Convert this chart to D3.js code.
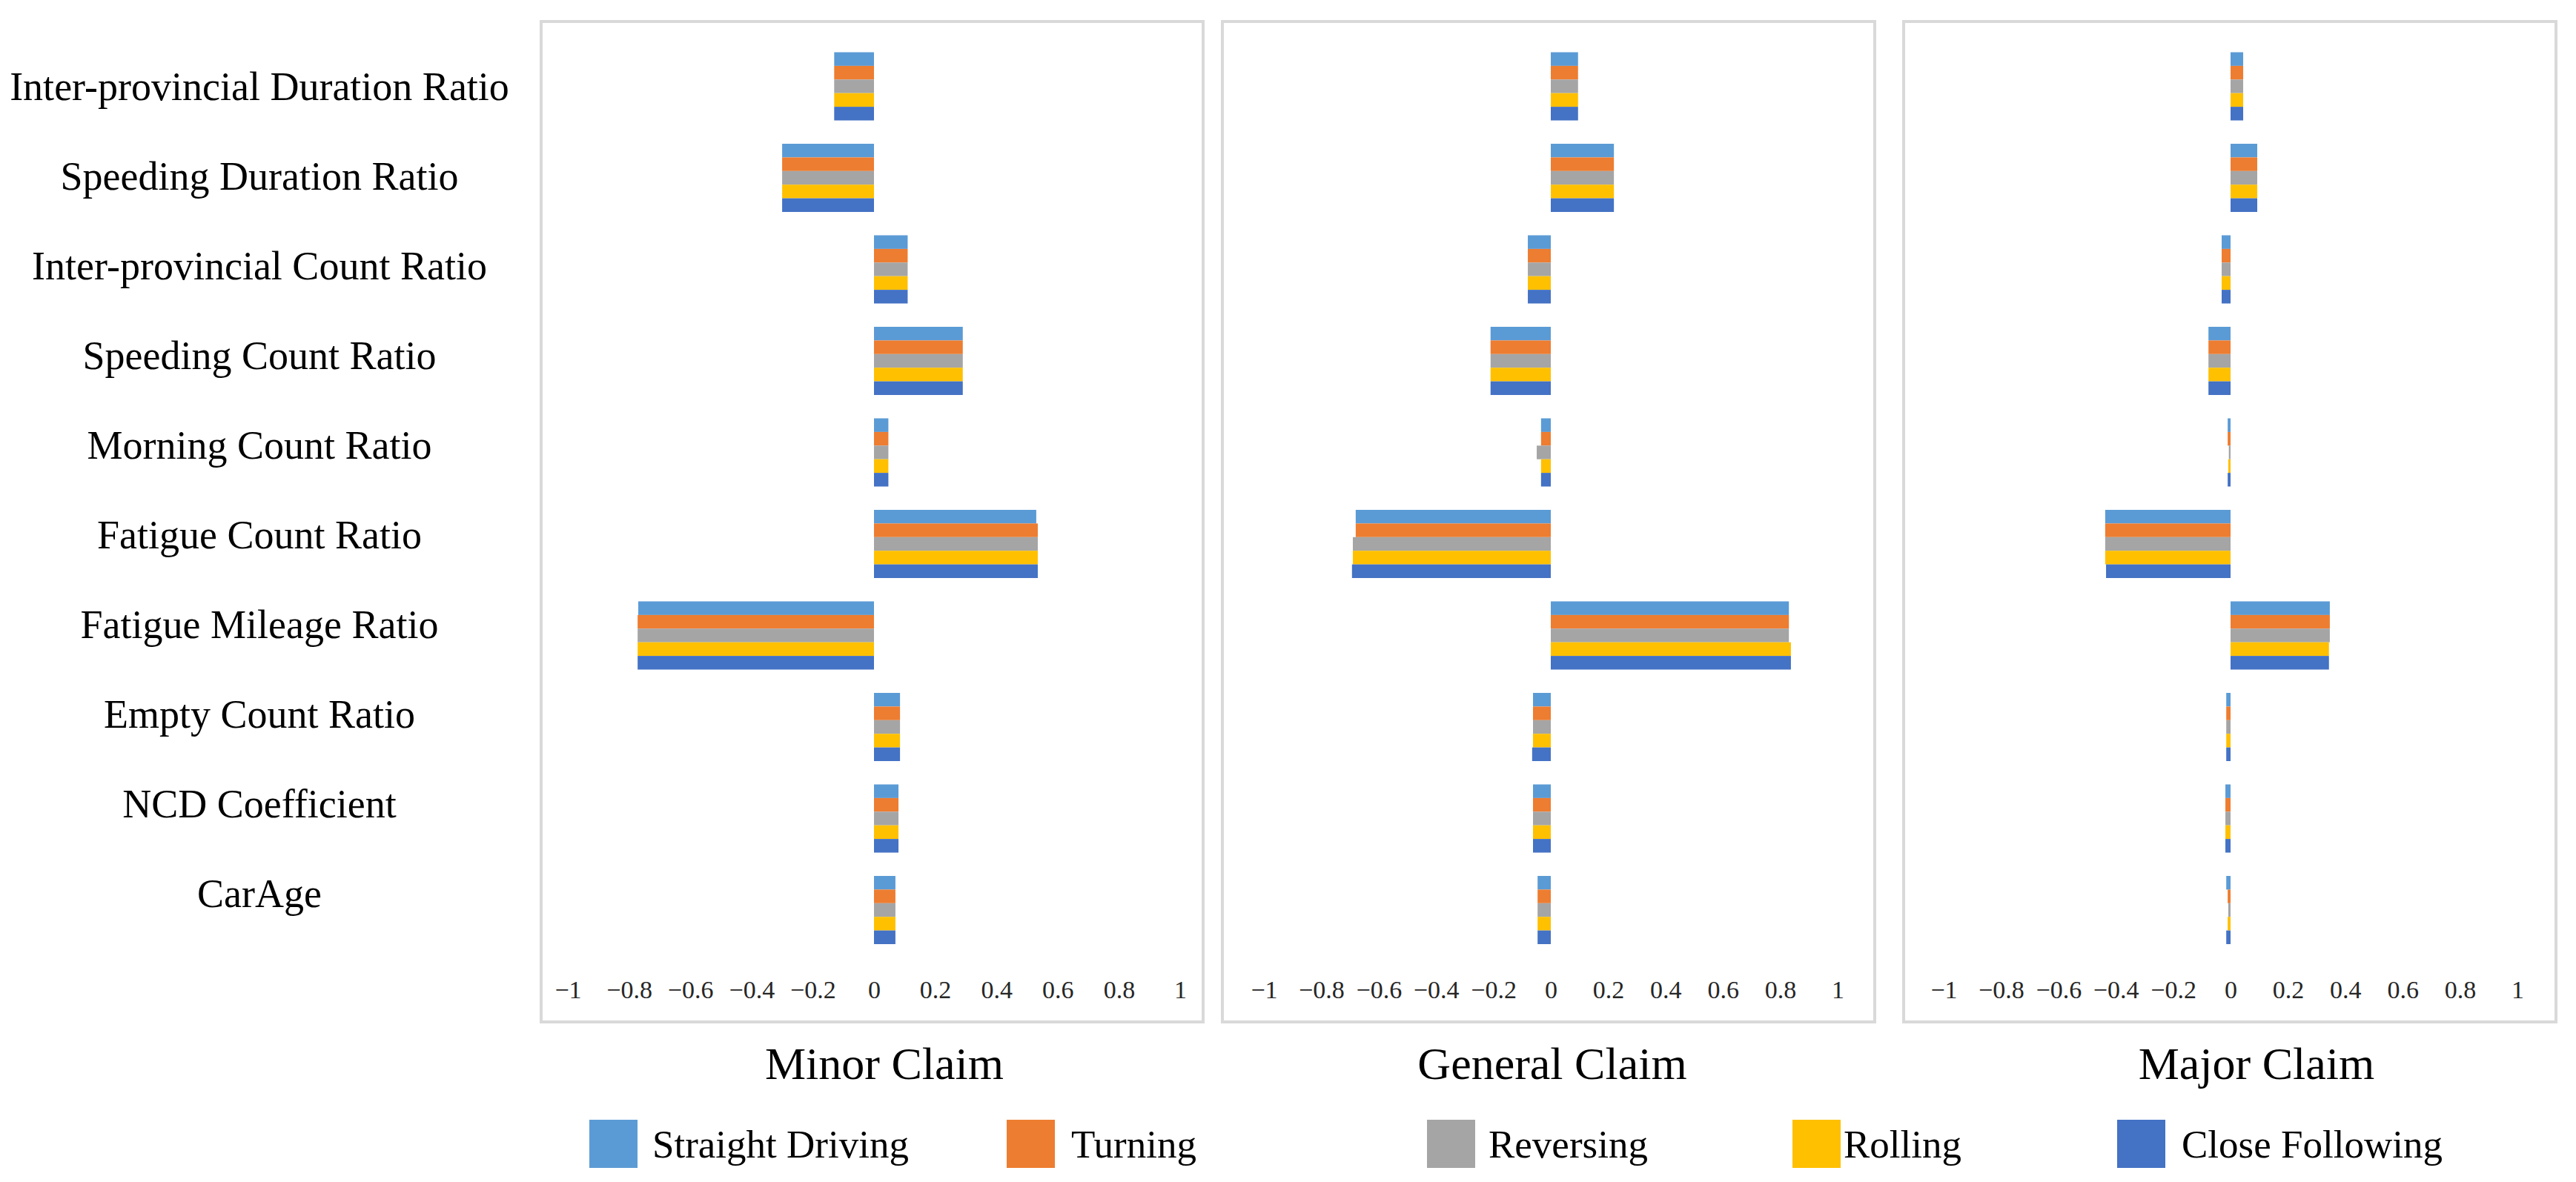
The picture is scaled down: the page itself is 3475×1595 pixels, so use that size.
<!DOCTYPE html>
<html>
<head>
<meta charset="utf-8">
<script src="https://cdn.jsdelivr.net/npm/d3@7"></script>
<style>
  body { margin: 0; background: #fff; }
  text { font-family: "Liberation Serif", "Times New Roman", serif; }
</style>
</head>
<body>
<svg id="chart" width="3475" height="1595"></svg>
<script>
const categories = ["Inter-provincial Duration Ratio", "Speeding Duration Ratio", "Inter-provincial Count Ratio",
  "Speeding Count Ratio", "Morning Count Ratio", "Fatigue Count Ratio", "Fatigue Mileage Ratio",
  "Empty Count Ratio", "NCD Coefficient", "CarAge"];
const seriesNames = ["Straight Driving", "Turning", "Reversing", "Rolling", "Close Following"];
const panelTitles = ["Minor Claim", "General Claim", "Major Claim"];
const tickValues = d3.ticks(-1, 1, 10);

// one row per series, values in category order
const minorValues = [
  [-0.13, -0.30, 0.11, 0.29, 0.047, 0.53, -0.77, 0.085, 0.08, 0.07],
  [-0.13, -0.30, 0.11, 0.29, 0.047, 0.535, -0.772, 0.085, 0.08, 0.07],
  [-0.13, -0.30, 0.11, 0.29, 0.047, 0.535, -0.772, 0.085, 0.08, 0.07],
  [-0.13, -0.30, 0.11, 0.29, 0.047, 0.535, -0.772, 0.085, 0.08, 0.07],
  [-0.13, -0.30, 0.11, 0.29, 0.047, 0.535, -0.772, 0.085, 0.08, 0.07]
];
const generalValues = [
  [0.095, 0.22, -0.08, -0.21, -0.034, -0.68, 0.83, -0.062, -0.062, -0.046],
  [0.095, 0.22, -0.08, -0.21, -0.034, -0.68, 0.83, -0.062, -0.062, -0.046],
  [0.095, 0.22, -0.08, -0.21, -0.049, -0.69, 0.83, -0.062, -0.062, -0.046],
  [0.095, 0.22, -0.08, -0.21, -0.034, -0.69, 0.837, -0.062, -0.062, -0.046],
  [0.095, 0.22, -0.08, -0.21, -0.034, -0.693, 0.837, -0.065, -0.062, -0.046]
];
const majorValues = [
  [0.044, 0.093, -0.031, -0.077, -0.01, -0.437, 0.346, -0.015, -0.018, -0.015],
  [0.044, 0.093, -0.031, -0.077, -0.01, -0.437, 0.346, -0.015, -0.018, -0.01],
  [0.044, 0.093, -0.031, -0.077, -0.006, -0.437, 0.346, -0.015, -0.018, -0.008],
  [0.044, 0.093, -0.031, -0.077, -0.008, -0.437, 0.343, -0.015, -0.018, -0.01],
  [0.044, 0.093, -0.031, -0.077, -0.01, -0.434, 0.343, -0.015, -0.018, -0.015]
];
const colors = ["#5B9BD5", "#ED7D31", "#A5A5A5", "#FFC000", "#4472C4"];

// layout
const panels = [
  {values: minorValues, box: [730, 1623], range: [766, 1592], titleX: 1193},
  {values: generalValues, box: [1649, 2529], range: [1705, 2479], titleX: 2094},
  {values: majorValues, box: [2568, 3448], range: [2622, 3396], titleX: 3044}
];
const legendX = [795, 1358, 1925, 2418, 2856];
const legendTextGap = [20, 22, 18, 4, 22];

const svg = d3.select("#chart");

const y = d3.scaleBand()
  .domain(categories)
  .range([54.75, 1289.75])
  .paddingInner(0.255)
  .paddingOuter(0.1275);

const ySub = d3.scaleBand()
  .domain(seriesNames)
  .range([0, y.bandwidth()]);

const color = d3.scaleOrdinal().domain(seriesNames).range(colors);

// category labels on the left
const labelY = d3.scalePoint().domain(categories).range([116, 1205]);
svg.append("g")
  .selectAll("text")
  .data(categories)
  .join("text")
  .attr("x", 350)
  .attr("y", d => labelY(d))
  .attr("dy", "0.35em")
  .attr("text-anchor", "middle")
  .style("font-size", "54px")
  .style("fill", "#000")
  .text(d => d);

panels.forEach((p, pi) => {
  const g = svg.append("g");

  g.append("rect")
    .attr("x", p.box[0])
    .attr("y", 29)
    .attr("width", p.box[1] - p.box[0])
    .attr("height", 1350)
    .attr("fill", "#fff")
    .attr("stroke", "#d9d9d9")
    .attr("stroke-width", 4);

  const x = d3.scaleLinear().domain([-1, 1]).range(p.range);

  const rows = [];
  seriesNames.forEach((s, si) => {
    categories.forEach((c, ci) => rows.push({series: s, cat: c, value: p.values[si][ci]}));
  });

  g.selectAll("rect.bar")
    .data(rows)
    .join("rect")
    .attr("class", "bar")
    .attr("x", d => Math.min(x(0), x(d.value)))
    .attr("y", d => y(d.cat) + ySub(d.series))
    .attr("width", d => Math.abs(x(d.value) - x(0)))
    .attr("height", ySub.bandwidth())
    .attr("fill", d => color(d.series));

  const axis = g.append("g")
    .attr("transform", "translate(0,1347)")
    .call(d3.axisBottom(x).tickValues(tickValues).tickSize(0).tickPadding(0).tickFormat(d3.format("~g")));
  axis.select(".domain").remove();
  axis.selectAll("text")
    .attr("y", 0)
    .attr("dy", 0)
    .attr("fill", "#262626")
    .style("font-size", "34px")
    .style("font-family", "Liberation Serif");

  svg.append("text")
    .attr("x", p.titleX)
    .attr("y", 1456)
    .attr("text-anchor", "middle")
    .style("font-size", "62px")
    .style("fill", "#000")
    .text(panelTitles[pi]);
});

// legend
const legend = svg.append("g")
  .selectAll("g")
  .data(seriesNames)
  .join("g")
  .attr("transform", (d, i) => `translate(${legendX[i]},1511)`);

legend.append("rect")
  .attr("width", 65)
  .attr("height", 65)
  .attr("fill", d => color(d));

legend.append("text")
  .attr("x", (d, i) => 65 + legendTextGap[i])
  .attr("y", 51)
  .style("font-size", "53px")
  .style("fill", "#000")
  .text(d => d);
</script>
</body>
</html>
